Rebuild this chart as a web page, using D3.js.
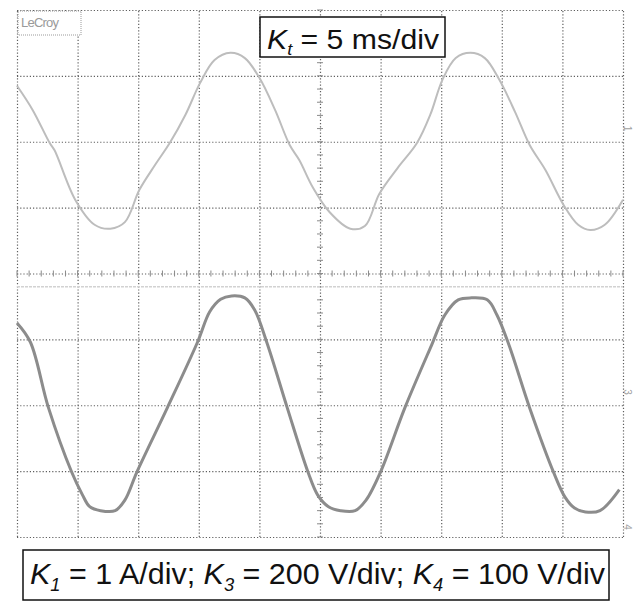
<!DOCTYPE html>
<html>
<head>
<meta charset="utf-8">
<script src="https://cdn.jsdelivr.net/npm/d3@7"></script>
<style>
  body { margin: 0; background: #fff; }
  svg { display: block; }
</style>
</head>
<body>
<div id="container"></div>
<script>
/* CONSTANTS AND GLOBALS */
const width = 637,
  height = 601,
  screen = { left: 17, right: 623, top: 10, bottom: 537 };

// DATA (time in ms, amplitude in divisions)
const upperTime = [0, 1.3, 2.7, 3.1, 4.8, 6.4, 7.7, 8.9, 10.1, 11.4, 12.6, 13.9, 15.1, 16.3, 17.6, 18.8, 20.0, 21.3, 22.5, 23.3, 24.4, 25.8, 27.5, 28.7, 29.9, 31.4, 33.0, 34.1, 35.1, 36.2, 37.4, 38.6, 39.8, 41.1, 42.3, 43.6, 45.1, 46.3, 47.3, 48.5, 50.0];
const upperDiv = [2.85, 2.48, 1.98, 1.87, 1.12, 0.74, 0.68, 0.78, 1.27, 1.65, 1.98, 2.41, 2.89, 3.24, 3.35, 3.27, 2.97, 2.48, 1.95, 1.72, 1.31, 0.93, 0.68, 0.72, 1.21, 1.60, 1.98, 2.41, 2.94, 3.27, 3.35, 3.27, 2.94, 2.45, 1.95, 1.57, 1.04, 0.74, 0.66, 0.74, 1.12];

const lowerTime = [0, 1.1, 2.6, 4.5, 5.4, 6.0, 6.9, 8.1, 8.9, 9.9, 12.4, 14.9, 15.9, 16.8, 17.7, 18.8, 19.6, 20.6, 22.3, 24.0, 24.8, 25.7, 26.7, 27.9, 28.8, 30.0, 32.0, 34.2, 35.3, 36.4, 37.5, 38.8, 39.6, 40.6, 42.3, 44.3, 45.2, 46.0, 46.9, 48.1, 49.7];
const lowerDiv = [-0.75, -1.04, -2.04, -3.01, -3.36, -3.54, -3.60, -3.60, -3.44, -3.01, -2.04, -1.04, -0.58, -0.39, -0.34, -0.37, -0.55, -1.04, -2.04, -3.01, -3.36, -3.54, -3.60, -3.60, -3.44, -3.01, -2.04, -1.09, -0.63, -0.40, -0.37, -0.40, -0.63, -1.09, -2.04, -3.03, -3.39, -3.56, -3.62, -3.60, -3.28];

const baseTime = [0, 50];
const baseDiv = [-0.2, -0.2];

const markerLabels = ["1", "3", "4"];
const markerDiv = [2.2, -1.8, -3.85];

const timeLabel = { k: "K", sub: "t", rest: " = 5 ms/div" };
const scaleLabels = [
  { k: "K", sub: "1", rest: " = 1 A/div; " },
  { k: "K", sub: "3", rest: " = 200 V/div; " },
  { k: "K", sub: "4", rest: " = 100 V/div" }
];

// APPEND SVG
const svg = d3.select("#container")
  .append("svg")
  .attr("width", width)
  .attr("height", height)
  .style("font-family", "'Liberation Sans', Arial, sans-serif")

// SCALES
const x = d3.scaleLinear().domain([0, 50]).range([screen.left, screen.right])
const y = d3.scaleLinear().domain([-4, 4]).range([screen.bottom, screen.top])

// GRID (dotted, like the scope screen)
const grid = svg.append("g").attr("class", "grid")

grid.append("g")
  .attr("transform", `translate(0, ${screen.bottom})`)
  .call(d3.axisBottom(x).tickValues(d3.range(0, 51, 5)).tickSize(-(screen.bottom - screen.top)).tickFormat(""))

grid.append("g")
  .attr("transform", `translate(${screen.left}, 0)`)
  .call(d3.axisLeft(y).tickValues(d3.range(-4, 5, 1)).tickSize(-(screen.right - screen.left)).tickFormat(""))

grid.selectAll(".domain").remove()
grid.selectAll(".tick line")
  .attr("stroke", "#5f5f5f")
  .attr("stroke-width", 1.2)
  .attr("stroke-dasharray", "1.2 2")

// minor ticks on the centre cross
grid.selectAll("line.xminor")
  .data(d3.range(0, 50.01, 1))
  .join("line")
  .attr("class", "xminor")
  .attr("x1", d => x(d)).attr("x2", d => x(d))
  .attr("y1", y(0) - 3).attr("y2", y(0) + 3)
  .attr("stroke", "#8a8a8a")
  .attr("stroke-width", 1)

grid.selectAll("line.yminor")
  .data(d3.range(-4, 4.01, 0.2))
  .join("line")
  .attr("class", "yminor")
  .attr("x1", x(25) - 3).attr("x2", x(25) + 3)
  .attr("y1", d => y(d)).attr("y2", d => y(d))
  .attr("stroke", "#8a8a8a")
  .attr("stroke-width", 1)

// TRACES
const lineGen = d3.line()
  .x(d => x(d[0]))
  .y(d => y(d[1]))
  .curve(d3.curveCatmullRom.alpha(0.5))

svg.append("path")
  .attr("d", lineGen(d3.zip(baseTime, baseDiv)))
  .attr("fill", "none")
  .attr("stroke", "#d2d2d2")
  .attr("stroke-width", 1.5)
  .attr("stroke-dasharray", "3 1")

svg.append("path")
  .attr("d", lineGen(d3.zip(upperTime, upperDiv)))
  .attr("fill", "none")
  .attr("stroke", "#bdbdbd")
  .attr("stroke-width", 2)

svg.append("path")
  .attr("d", lineGen(d3.zip(lowerTime, lowerDiv)))
  .attr("fill", "none")
  .attr("stroke", "#8c8c8c")
  .attr("stroke-width", 3)

// channel markers on the right edge
svg.selectAll("text.marker")
  .data(d3.zip(markerLabels, markerDiv))
  .join("text")
  .attr("class", "marker")
  .attr("transform", d => `translate(${screen.right + 1}, ${y(d[1])}) rotate(90)`)
  .attr("text-anchor", "middle")
  .attr("font-size", 10)
  .attr("fill", "#a0a0a0")
  .text(d => d[0])

// LeCroy tag
svg.append("rect")
  .attr("x", screen.left + 1).attr("y", screen.top + 1)
  .attr("width", 63).attr("height", 24)
  .attr("fill", "#fff")
  .attr("stroke", "#9a9a9a")
  .attr("stroke-dasharray", "1 1")
svg.append("text")
  .attr("x", screen.left + 4).attr("y", screen.top + 17)
  .attr("font-size", 13)
  .attr("fill", "#9a9a9a")
  .attr("textLength", 38)
  .text("LeCroy")

// LABEL BOXES
function kLabel(g, parts, xPos, yPos, size, len) {
  const t = g.append("text")
    .attr("x", xPos).attr("y", yPos)
    .attr("font-size", size)
    .attr("fill", "#111")
    .attr("textLength", len)
    .attr("lengthAdjust", "spacingAndGlyphs")
  parts.forEach(p => {
    t.append("tspan").attr("font-style", "italic").text(p.k)
    t.append("tspan").attr("font-style", "italic").attr("font-size", size * 0.6).attr("dy", size * 0.22).text(p.sub)
    t.append("tspan").attr("dy", -size * 0.22).text(p.rest)
  })
}

const topBox = svg.append("g")
topBox.append("rect")
  .attr("x", 260).attr("y", 17).attr("width", 185).attr("height", 40)
  .attr("fill", "#fff").attr("stroke", "#111").attr("stroke-width", 1.5)
kLabel(topBox, [timeLabel], 267, 49, 28, 172)

const bottomBox = svg.append("g")
bottomBox.append("rect")
  .attr("x", 23).attr("y", 550).attr("width", 586).attr("height", 50)
  .attr("fill", "#fff").attr("stroke", "#111").attr("stroke-width", 1.5)
kLabel(bottomBox, scaleLabels, 30, 584, 30, 575)
</script>
</body>
</html>
